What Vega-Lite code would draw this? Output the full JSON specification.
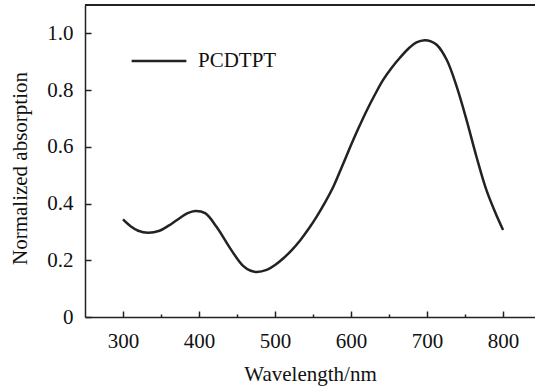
{
  "$schema": "https://vega.github.io/schema/vega-lite/v6.json",
  "width": 450,
  "height": 312,
  "autosize": {"type": "none"},
  "padding": {"left": 85, "top": 5, "right": 0, "bottom": 71},
  "background": "white",
  "config": {
    "view": {"stroke": null},
    "font": "Liberation Serif"
  },
  "data": {
    "values": [
      {"wavelength": 300, "absorption": 0.344, "series": "PCDTPT"},
      {"wavelength": 310, "absorption": 0.320, "series": "PCDTPT"},
      {"wavelength": 320, "absorption": 0.304, "series": "PCDTPT"},
      {"wavelength": 333, "absorption": 0.297, "series": "PCDTPT"},
      {"wavelength": 348, "absorption": 0.304, "series": "PCDTPT"},
      {"wavelength": 360, "absorption": 0.322, "series": "PCDTPT"},
      {"wavelength": 371, "absorption": 0.342, "series": "PCDTPT"},
      {"wavelength": 385, "absorption": 0.366, "series": "PCDTPT"},
      {"wavelength": 395, "absorption": 0.374, "series": "PCDTPT"},
      {"wavelength": 408, "absorption": 0.366, "series": "PCDTPT"},
      {"wavelength": 423, "absorption": 0.318, "series": "PCDTPT"},
      {"wavelength": 441, "absorption": 0.242, "series": "PCDTPT"},
      {"wavelength": 458, "absorption": 0.180, "series": "PCDTPT"},
      {"wavelength": 468, "absorption": 0.163, "series": "PCDTPT"},
      {"wavelength": 476, "absorption": 0.159, "series": "PCDTPT"},
      {"wavelength": 489, "absorption": 0.166, "series": "PCDTPT"},
      {"wavelength": 500, "absorption": 0.183, "series": "PCDTPT"},
      {"wavelength": 511, "absorption": 0.207, "series": "PCDTPT"},
      {"wavelength": 522, "absorption": 0.236, "series": "PCDTPT"},
      {"wavelength": 533, "absorption": 0.270, "series": "PCDTPT"},
      {"wavelength": 544, "absorption": 0.310, "series": "PCDTPT"},
      {"wavelength": 555, "absorption": 0.355, "series": "PCDTPT"},
      {"wavelength": 566, "absorption": 0.405, "series": "PCDTPT"},
      {"wavelength": 577, "absorption": 0.461, "series": "PCDTPT"},
      {"wavelength": 588, "absorption": 0.530, "series": "PCDTPT"},
      {"wavelength": 599, "absorption": 0.600, "series": "PCDTPT"},
      {"wavelength": 610, "absorption": 0.667, "series": "PCDTPT"},
      {"wavelength": 621, "absorption": 0.730, "series": "PCDTPT"},
      {"wavelength": 632, "absorption": 0.787, "series": "PCDTPT"},
      {"wavelength": 642, "absorption": 0.835, "series": "PCDTPT"},
      {"wavelength": 653, "absorption": 0.877, "series": "PCDTPT"},
      {"wavelength": 664, "absorption": 0.913, "series": "PCDTPT"},
      {"wavelength": 677, "absorption": 0.950, "series": "PCDTPT"},
      {"wavelength": 686, "absorption": 0.968, "series": "PCDTPT"},
      {"wavelength": 697, "absorption": 0.976, "series": "PCDTPT"},
      {"wavelength": 705, "absorption": 0.972, "series": "PCDTPT"},
      {"wavelength": 713, "absorption": 0.959, "series": "PCDTPT"},
      {"wavelength": 726, "absorption": 0.906, "series": "PCDTPT"},
      {"wavelength": 739, "absorption": 0.812, "series": "PCDTPT"},
      {"wavelength": 752, "absorption": 0.694, "series": "PCDTPT"},
      {"wavelength": 765, "absorption": 0.565, "series": "PCDTPT"},
      {"wavelength": 778, "absorption": 0.448, "series": "PCDTPT"},
      {"wavelength": 792, "absorption": 0.354, "series": "PCDTPT"},
      {"wavelength": 800, "absorption": 0.307, "series": "PCDTPT"}
    ]
  },
  "layer": [
    {
      "mark": {"type": "rule", "color": "#222", "strokeWidth": 1.5},
      "encoding": {"y": {"datum": 1.1, "type": "quantitative"}}
    },
    {
      "mark": {"type": "line", "interpolate": "catmull-rom", "strokeWidth": 2.5},
      "encoding": {
        "x": {
          "field": "wavelength",
          "type": "quantitative",
          "scale": {"domain": [250, 842], "nice": false, "zero": false},
          "axis": {
            "title": "Wavelength/nm",
            "values": [300, 350, 400, 450, 500, 550, 600, 650, 700, 750, 800],
            "labelExpr": "datum.value % 100 === 0 ? datum.label : ''",
            "labelOverlap": false,
            "grid": false,
            "domainColor": "#222",
            "domainWidth": 1.5,
            "tickColor": "#222",
            "tickWidth": 1.5,
            "tickSize": {"condition": {"test": "datum.value % 100 === 0", "value": -6}, "value": -3},
            "labelPadding": 19,
            "labelFont": "Liberation Serif",
            "labelFontSize": 21,
            "labelColor": "#111",
            "titleFont": "Liberation Serif",
            "titleFontSize": 21,
            "titleFontWeight": "normal",
            "titleColor": "#111",
            "titlePadding": 9
          }
        },
        "y": {
          "field": "absorption",
          "type": "quantitative",
          "scale": {"domain": [0, 1.1], "nice": false},
          "axis": {
            "title": "Normalized absorption",
            "values": [0, 0.1, 0.2, 0.3, 0.4, 0.5, 0.6, 0.7, 0.8, 0.9, 1.0],
            "labelExpr": "round(datum.value * 10) % 2 === 0 ? (datum.value === 0 ? '0' : format(datum.value, '.1f')) : ''",
            "labelOverlap": false,
            "grid": false,
            "domainColor": "#222",
            "domainWidth": 1.5,
            "tickColor": "#222",
            "tickWidth": 1.5,
            "tickSize": {"condition": {"test": "round(datum.value * 10) % 2 === 0", "value": -6}, "value": -3},
            "labelPadding": 18,
            "labelFont": "Liberation Serif",
            "labelFontSize": 21,
            "labelColor": "#111",
            "titleFont": "Liberation Serif",
            "titleFontSize": 21,
            "titleFontWeight": "normal",
            "titleColor": "#111",
            "titlePadding": 16,
            "titleY": 163
          }
        },
        "color": {
          "field": "series",
          "type": "nominal",
          "scale": {"range": ["#222222"]},
          "legend": {
            "title": null,
            "orient": "none",
            "legendX": 45,
            "legendY": 27,
            "symbolType": "stroke",
            "symbolSize": 3000,
            "symbolStrokeWidth": 2.5,
            "symbolStrokeColor": "#222",
            "labelFont": "Liberation Serif",
            "labelFontSize": 21,
            "labelColor": "#111",
            "labelOffset": 10
          }
        }
      }
    }
  ]
}
